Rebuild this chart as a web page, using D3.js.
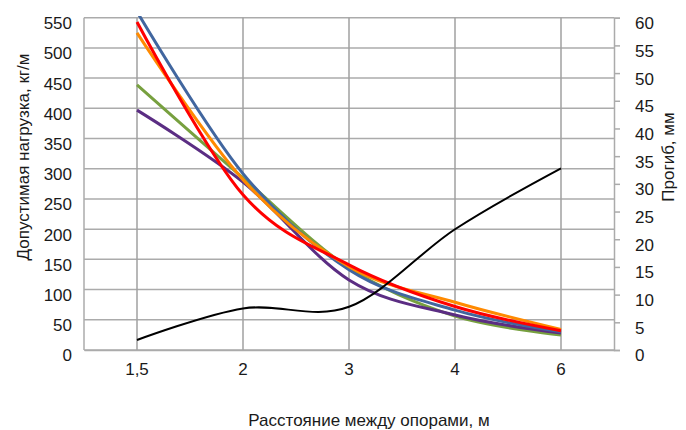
<!DOCTYPE html>
<html>
<head>
<meta charset="utf-8">
<script src="https://cdn.jsdelivr.net/npm/d3@7"></script>
<style>
  html, body { margin: 0; padding: 0; background: #fff; }
  svg { display: block; }
  text { font-family: "Liberation Sans", Arial, sans-serif; fill: #1a1a1a; }
</style>
</head>
<body>
<svg id="chart" width="686" height="430"></svg>
<script>
// ---- data ----
const categories = ["1,5", "2", "3", "4", "6"];
const loadTicks = [0, 50, 100, 150, 200, 250, 300, 350, 400, 450, 500, 550];
const deflTicks = [0, 5, 10, 15, 20, 25, 30, 35, 40, 45, 50, 55, 60];
const seriesBlue   = [560, 292, 133, 66, 30];
const seriesRed    = [543, 257, 141, 72, 32];
const seriesOrange = [525, 282, 138, 79, 34];
const seriesGreen  = [439, 285, 136, 56, 25];
const seriesPurple = [397, 278, 116, 58, 28];
const deflection   = [1.8, 7.5, 7.8, 21.8, 32.8];

const loadSeries = [
  { values: seriesGreen,  color: "#77a03f" },
  { values: seriesPurple, color: "#5b2d83" },
  { values: seriesBlue,   color: "#41669f" },
  { values: seriesOrange, color: "#ff8a00" },
  { values: seriesRed,    color: "#ff0000" }
];

// ---- layout ----
const svg = d3.select("#chart");
const pLeft = 84, pRight = 614, pTop = 17.7, pBottom = 350;
const FS = 17;

const x = d3.scaleBand().domain(categories).range([pLeft, pRight]).padding(0);
const cx = c => x(c) + x.bandwidth() / 2;
const yL = d3.scaleLinear().domain([0, 550]).range([pBottom, pTop]);
const yR = d3.scaleLinear().domain([0, 60]).range([pBottom, pTop]);

const gridColor = "#ababab";

// horizontal gridlines
svg.append("g").selectAll("line").data(loadTicks).join("line")
  .attr("x1", pLeft).attr("x2", pRight)
  .attr("y1", d => yL(d)).attr("y2", d => yL(d))
  .attr("stroke", gridColor).attr("stroke-width", 1.5);

// vertical gridlines at categories
svg.append("g").selectAll("line").data(categories).join("line")
  .attr("x1", d => cx(d)).attr("x2", d => cx(d))
  .attr("y1", pTop).attr("y2", pBottom)
  .attr("stroke", "#a0a0a0").attr("stroke-width", 1.5);

// plot border left
svg.append("line").attr("x1", pLeft).attr("x2", pLeft).attr("y1", pTop).attr("y2", pBottom)
  .attr("stroke", gridColor).attr("stroke-width", 1.5);

// right axis
const rAxis = d3.axisRight(yR).tickValues(deflTicks).tickSize(6).tickPadding(16);
const rg = svg.append("g").attr("transform", `translate(${pRight},0)`).call(rAxis);
rg.select(".domain").attr("stroke", gridColor).attr("stroke-width", 1.5);
rg.selectAll(".tick line").attr("stroke", gridColor).attr("stroke-width", 1.5);
rg.selectAll(".tick text").attr("font-size", FS).attr("dy", "0.35em").attr("dx", -1)
  .style("font-family", "'Liberation Sans', Arial, sans-serif").attr("fill", "#1a1a1a")
  .attr("transform", "translate(0,5)");

// left axis labels
const lAxis = d3.axisLeft(yL).tickValues(loadTicks).tickSize(0).tickPadding(12);
const lg = svg.append("g").attr("transform", `translate(${pLeft},0)`).call(lAxis);
lg.select(".domain").remove();
lg.selectAll(".tick text").attr("font-size", FS).attr("dy", "0.35em")
  .style("font-family", "'Liberation Sans', Arial, sans-serif").attr("fill", "#1a1a1a")
  .attr("transform", "translate(0,5)");

// bottom axis labels
const bAxis = d3.axisBottom(x).tickSize(0).tickPadding(13);
const bg = svg.append("g").attr("transform", `translate(0,${pBottom})`).call(bAxis);
bg.select(".domain").attr("stroke", gridColor).attr("stroke-width", 1.5);
bg.selectAll(".tick text").attr("font-size", FS)
  .style("font-family", "'Liberation Sans', Arial, sans-serif").attr("fill", "#1a1a1a");

// clip
svg.append("clipPath").attr("id", "plotclip").append("rect")
  .attr("x", pLeft - 5).attr("y", 16).attr("width", pRight - pLeft + 10).attr("height", pBottom - 16 + 5);

const curve = d3.curveCardinal.tension(0);
const lineL = d3.line().x((d, i) => cx(categories[i])).y(d => yL(d)).curve(curve);
const lineR = d3.line().x((d, i) => cx(categories[i])).y(d => yR(d)).curve(curve);

const plot = svg.append("g").attr("clip-path", "url(#plotclip)");
plot.selectAll("path.load").data(loadSeries).join("path")
  .attr("class", "load")
  .attr("d", d => lineL(d.values))
  .attr("fill", "none").attr("stroke", d => d.color).attr("stroke-width", 3)
  .attr("stroke-linejoin", "round");

plot.append("path").attr("d", lineR(deflection))
  .attr("fill", "none").attr("stroke", "#000").attr("stroke-width", 2);

// axis titles
svg.append("text").attr("transform", "translate(29,157) rotate(-90)")
  .attr("text-anchor", "middle").attr("font-size", FS)
  .text("Допустимая нагрузка, кг/м");
svg.append("text").attr("transform", "translate(674,157) rotate(-90)")
  .attr("text-anchor", "middle").attr("font-size", FS)
  .text("Прогиб, мм");
svg.append("text").attr("x", 369).attr("y", 426)
  .attr("text-anchor", "middle").attr("font-size", FS)
  .text("Расстояние между опорами, м");
</script>
</body>
</html>
